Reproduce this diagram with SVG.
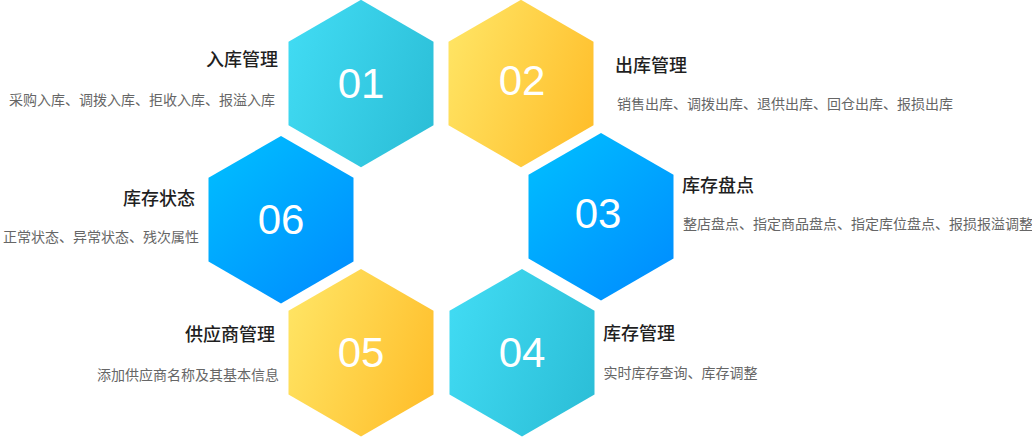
<svg xmlns="http://www.w3.org/2000/svg" xmlns:xlink="http://www.w3.org/1999/xlink" width="1032" height="437" viewBox="0 0 1032 437">
  <defs>
    <linearGradient id="gCyan" x1="0" y1="0.3" x2="1" y2="0.7">
      <stop offset="0" stop-color="#40DAF2"/>
      <stop offset="1" stop-color="#2CBFD8"/>
    </linearGradient>
    <linearGradient id="gYellow" x1="0" y1="0.3" x2="1" y2="0.7">
      <stop offset="0" stop-color="#FFE362"/>
      <stop offset="1" stop-color="#FFBF2C"/>
    </linearGradient>
    <linearGradient id="gBlue" x1="0.1" y1="0" x2="0.9" y2="1">
      <stop offset="0" stop-color="#00BEFF"/>
      <stop offset="1" stop-color="#008CFF"/>
    </linearGradient>
    <polygon id="hex" points="0,-83.7 72.5,-41.85 72.5,41.85 0,83.7 -72.5,41.85 -72.5,-41.85"/>
  </defs>
  <style>
    .num { font-family: "Liberation Sans", Arial, sans-serif; font-size: 42px; fill: #FFFFFF; text-anchor: middle; }
    .title { font-family: "Noto Sans CJK SC", "Noto Sans", sans-serif; font-size: 18px; font-weight: 500; fill: #1F1F1F; }
    .sub { font-family: "Noto Sans CJK SC", "Noto Sans", sans-serif; font-size: 14px; fill: #666666; }
    .end { text-anchor: end; }
    .cyan { fill: url(#gCyan); }
    .yellow { fill: url(#gYellow); }
    .blue { fill: url(#gBlue); }
  </style>
  <rect width="1032" height="437" fill="#FFFFFF"/>

  <g id="connectors"></g>

  <g id="node-01">
    <polygon class="cyan" points="361,-0.2 433.5,41.65 433.5,125.35 361,167.2 288.5,125.35 288.5,41.65"/>
    <text class="num" x="361" y="98">01</text>
    <text class="title end" x="278" y="65.5">入库管理</text>
    <text class="sub end" x="275" y="104.5">采购入库、调拨入库、拒收入库、报溢入库</text>
  </g>

  <g id="node-02">
    <polygon class="yellow" points="521,-0.2 593.5,41.65 593.5,125.35 521,167.2 448.5,125.35 448.5,41.65"/>
    <text class="num" x="522" y="95">02</text>
    <text class="title" x="615" y="72">出库管理</text>
    <text class="sub" x="617" y="109">销售出库、调拨出库、退供出库、回仓出库、报损出库</text>
  </g>

  <g id="node-03">
    <polygon class="blue" points="601,133 673.5,174.85 673.5,258.55 601,300.4 528.5,258.55 528.5,174.85"/>
    <text class="num" x="598" y="228">03</text>
    <text class="title" x="682" y="192">库存盘点</text>
    <text class="sub" x="683" y="229">整店盘点、指定商品盘点、指定库位盘点、报损报溢调整</text>
  </g>

  <g id="node-04">
    <polygon class="cyan" points="522,269 594.5,310.85 594.5,394.55 522,436.4 449.5,394.55 449.5,310.85"/>
    <text class="num" x="522" y="367">04</text>
    <text class="title" x="603" y="340">库存管理</text>
    <text class="sub" x="603.5" y="378">实时库存查询、库存调整</text>
  </g>

  <g id="node-05">
    <polygon class="yellow" points="361,269 433.5,310.85 433.5,394.55 361,436.4 288.5,394.55 288.5,310.85"/>
    <text class="num" x="361" y="366.5">05</text>
    <text class="title end" x="275" y="341">供应商管理</text>
    <text class="sub end" x="279" y="379.5">添加供应商名称及其基本信息</text>
  </g>

  <g id="node-06">
    <polygon class="blue" points="281,136 353.5,177.85 353.5,261.55 281,303.4 208.5,261.55 208.5,177.85"/>
    <text class="num" x="281" y="234">06</text>
    <text class="title end" x="195" y="205">库存状态</text>
    <text class="sub end" x="199" y="242">正常状态、异常状态、残次属性</text>
  </g>
</svg>
